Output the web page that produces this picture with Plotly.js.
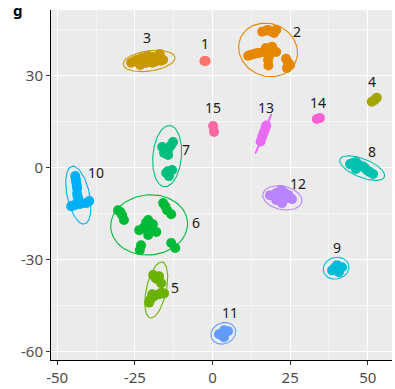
<!DOCTYPE html>
<html>
<head>
<meta charset="utf-8">
<script src="https://cdn.plot.ly/plotly-3.0.1.min.js"></script>
<style>html,body{margin:0;padding:0;background:#fff;}#chart{width:395px;height:389px;}</style>
</head>
<body>
<div id="chart"></div>
<script>
// ---- data ----
var clusterIds = ["1","2","3","4","5","6","7","8","9","10","11","12","13","14","15"];
var clusterColors = ["#F8766D","#E58700","#C99800","#A3A500","#6BB100","#00BA38","#00BF7D","#00C0AF","#00BCD8","#00B0F6","#619CFF","#B983FF","#E76BF3","#FD61D1","#FF67A4"];

var pointsX = [
  [-2.6,-2.2],
  [16.0,17.3,17.9,19.1,19.8,20.5,17.2,19.2,18.5,17.9,20.5,16.3,18.2,18.0,11.5,12.5,13.4,14.2,15.0,23.7,24.3,25.0,24.0],
  [-26.2,-25.0,-24.3,-22.7,-21.5,-20.7,-19.1,-17.5,-15.9,-21.4,-19.4,-23.3,-25.3,-17.0,-18.3,-22.0,-16.6],
  [51.3,52.2,52.9],
  [-19.1,-17.8,-16.5,-17.2,-18.4,-20.1,-18.8,-17.2,-15.6,-19.4,-20.4,-16.4],
  [-30.4,-29.6,-29.1,-28.5,-15.9,-15.2,-14.6,-13.3,-20.7,-22.3,-19.8,-18.1,-20.7,-23.6,-21.4,-19.2,-23.0,-23.4,-13.3,-12.0],
  [-15.6,-14.0,-12.7,-14.3,-16.2,-15.0,-13.4,-14.9,-13.0,-14.0,-14.4],
  [44.3,45.3,46.2,47.5,49.1,50.7,51.7,46.2,48.5,49.8,47.0],
  [38.5,40.1,41.7,40.7,39.5],
  [-44.2,-44.0,-43.9,-43.7,-43.6,-43.6,-43.4,-43.2,-45.5,-44.2,-42.6,-40.7,-39.7,-44.8],
  [2.1,3.7,5.0,3.7,3.0],
  [18.5,20.5,22.1,24.0,25.6,22.4,20.5,23.3,21.5,24.5],
  [15.5,16.0,16.5,17.0,17.3],
  [33.6,34.6],
  [0.2,0.5]
];
var pointsY = [
  [34.7,34.7],
  [44.2,44.6,44.8,44.2,43.8,44.8,38.9,39.3,37.3,35.0,37.6,37.6,36.2,33.2,36.4,36.7,37.0,37.2,37.3,35.4,34.3,33.4,32.4],
  [34.1,34.6,35.1,35.7,36.0,36.4,36.0,35.7,35.1,34.1,34.1,33.4,34.6,37.0,34.5,34.0,34.8],
  [21.4,22.0,22.7],
  [-35.0,-36.4,-37.7,-35.4,-35.9,-43.2,-41.9,-41.3,-41.0,-41.3,-44.0,-40.8],
  [-13.9,-14.6,-15.5,-17.1,-11.6,-12.6,-13.9,-15.2,-17.1,-19.7,-19.7,-21.0,-22.0,-20.4,-18.0,-18.5,-25.3,-26.9,-24.6,-26.2],
  [4.7,6.4,8.3,4.1,6.7,5.5,7.2,-1.8,-0.8,-2.8,-1.2],
  [1.1,1.5,1.8,0.5,-0.2,-1.5,-2.1,-0.5,0.3,-1.0,1.0],
  [-33.5,-31.8,-32.5,-34.1,-32.5],
  [-2.8,-3.8,-4.7,-5.7,-6.7,-8.6,-9.5,-10.3,-12.6,-12.2,-11.9,-11.6,-10.9,-12.4],
  [-54.3,-53.0,-53.3,-55.3,-54.6],
  [-9.0,-8.3,-7.3,-9.9,-10.3,-11.6,-10.6,-8.3,-10.0,-9.0],
  [8.5,10.0,11.3,12.6,13.7],
  [15.8,16.1],
  [13.5,11.6]
];

// ellipse outlines (centre, semi-axes, rotation in degrees); null = no ellipse
var ellCx  = [null, 17.9, -20.4, null, -18.1, -20.4, -14.6, 48.2, 39.8, -43.2, 3.5, 22.5, 16.4, null, null];
var ellCy  = [null, 38.3,  34.7, null, -39.9, -18.7,   3.7, -0.2, -32.8, -9.0, -54.0, -9.9, 11.0, null, null];
var ellRa  = [null, 9.7,   8.4,  null,  9.3,  12.4,  10.0,  7.7,  4.2,   9.6,  4.1,  6.4,  7.0, null, null];
var ellRb  = [null, 8.5,   3.3,  null,  3.2,   9.8,   4.6,  3.0,  3.5,   3.6,  3.4,  3.8,  0.3, null, null];
var ellAng = [null, -25,   8,    null,  78,     5,    85,  -22,   15,   102,   25,  -12,   68, null, null];

// labels
var labelX = [-2.4, 27.2, -21.0, 51.3, -12.0, -5.3, -8.4, 51.3, 40.1, -37.4, 5.7, 27.6, 17.3, 34.1, 0.2];
var labelY = [ 40.3, 44.2,  42.5, 27.9, -39.0, -17.8, 6.0,  5.1, -26.2, -1.5, -47.1, -5.1, 19.4, 21.3, 19.4];

var xTicks = [-50, -25, 0, 25, 50];
var yTicks = [-60, -30, 0, 30];

// ---- traces ----
var traces = [];
for (var i = 0; i < clusterIds.length; i++) {
  if (ellCx[i] !== null) {
    var ex = [], ey = [];
    var a = ellAng[i] * Math.PI / 180;
    for (var k = 0; k <= 100; k++) {
      var t = 2 * Math.PI * k / 100;
      var u = ellRa[i] * Math.cos(t), v = ellRb[i] * Math.sin(t);
      ex.push(ellCx[i] + u * Math.cos(a) - v * Math.sin(a));
      ey.push(ellCy[i] + u * Math.sin(a) + v * Math.cos(a));
    }
    traces.push({x: ex, y: ey, mode: 'lines', type: 'scatter',
      line: {color: clusterColors[i], width: 1.1}, hoverinfo: 'skip', showlegend: false});
  }
}
for (var j = 0; j < clusterIds.length; j++) {
  traces.push({x: pointsX[j], y: pointsY[j], mode: 'markers', type: 'scatter', name: clusterIds[j],
    marker: {color: clusterColors[j], size: 10, line: {width: 0}}, showlegend: false});
}

var annotations = clusterIds.map(function (id, i) {
  return {x: labelX[i], y: labelY[i], xref: 'x', yref: 'y', text: id, showarrow: false,
    font: {family: 'Noto Sans, Liberation Sans, sans-serif', size: 14, color: '#1a1a1a'}};
});
annotations.push({x: 0, y: 1, xref: 'paper', yref: 'paper', xshift: -40, yshift: 12, text: '<b>g</b>',
  showarrow: false, font: {family: 'Noto Sans, sans-serif', size: 15, color: '#000'}});

var axisCommon = {
  showline: true, linecolor: '#000', linewidth: 1,
  ticks: 'outside', ticklen: 4, tickcolor: '#333', tickwidth: 1,
  showgrid: true, gridcolor: '#FFFFFF', gridwidth: 1.1,
  zeroline: false,
  tickfont: {family: 'Noto Sans, Liberation Sans, sans-serif', size: 15, color: '#4D4D4D'}
};

var layout = {
  width: 395, height: 389,
  margin: {l: 51, r: 3, t: 10, b: 29},
  paper_bgcolor: '#FFFFFF', plot_bgcolor: '#EBEBEB',
  showlegend: false,
  xaxis: Object.assign({}, axisCommon, {range: [-52, 57.8], tickmode: 'array', tickvals: xTicks,
    ticktext: xTicks.map(String),
    minor: {tick0: 0, dtick: 12.5, showgrid: true, gridcolor: '#FFFFFF', gridwidth: 0.5, ticks: ''}}),
  yaxis: Object.assign({}, axisCommon, {range: [-62.7, 51.3], tickmode: 'array', tickvals: yTicks,
    ticktext: yTicks.map(String),
    minor: {tick0: 0, dtick: 15, showgrid: true, gridcolor: '#FFFFFF', gridwidth: 0.5, ticks: ''}}),
  annotations: annotations
};

Plotly.newPlot('chart', traces, layout, {displayModeBar: false, staticPlot: true});
</script>
</body>
</html>
